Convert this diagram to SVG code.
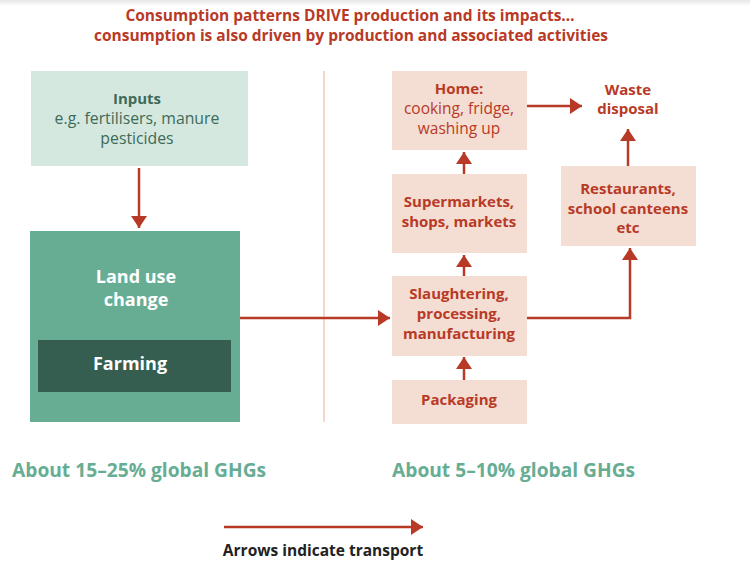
<svg xmlns="http://www.w3.org/2000/svg" width="750" height="570" viewBox="0 0 750 570">
<defs>
<marker id="ah" markerUnits="userSpaceOnUse" markerWidth="16" markerHeight="16" refX="12" refY="8" orient="auto">
<path d="M0,0 L12,8 L0,16 Z" fill="#b83a26"/>
</marker>
<linearGradient id="topshade" x1="0" y1="0" x2="0" y2="1">
<stop offset="0" stop-color="#e6e6e6"/>
<stop offset="1" stop-color="#ffffff"/>
</linearGradient>
<style>
.t{font-family:"Open Sans",Lato,sans-serif;text-anchor:middle}
.title{font-size:15.5px;font-weight:bold;fill:#b83a26}
.rb{font-size:15px;font-weight:bold;fill:#b83a26}
.rn{font-size:15.5px;fill:#b83a26}
.gb{font-size:15px;font-weight:bold;fill:#3d6b58}
.gn{font-size:15.8px;fill:#3d6b58}
.wb{font-size:18px;font-weight:bold;fill:#ffffff}
.ghg{font-family:"Open Sans",Lato,sans-serif;font-size:19.2px;font-weight:bold;fill:#66ad94;text-anchor:start}
.leg{font-size:15.5px;font-weight:bold;fill:#222222}
.pbox{fill:#f4ddd3}
.arr{stroke:#b83a26;stroke-width:2.5;fill:none;marker-end:url(#ah)}
</style>
</defs>
<rect width="750" height="570" fill="#ffffff"/>
<rect width="750" height="6" fill="url(#topshade)"/>
<text class="t title" x="350" y="21">Consumption patterns DRIVE production and its impacts…</text>
<text class="t title" x="351" y="41">consumption is also driven by production and associated activities</text>
<line x1="324" y1="71" x2="324" y2="422" stroke="#f0c8b8" stroke-width="1.5"/>
<g id="inputs">
<rect x="31" y="71" width="217" height="95" fill="#d5e8df"/>
<text class="t gb" x="137" y="104">Inputs</text>
<text class="t gn" x="137" y="124">e.g. fertilisers, manure</text>
<text class="t gn" x="137" y="144">pesticides</text>
</g>
<g id="landuse">
<rect x="30" y="231" width="210" height="191" fill="#66ad94"/>
<text class="t wb" x="136" y="283">Land use</text>
<text class="t wb" x="136" y="306">change</text>
</g>
<g id="farming">
<rect x="38" y="340" width="193" height="52" fill="#355e50"/>
<text class="t wb" x="130" y="370">Farming</text>
</g>
<g id="home">
<rect class="pbox" x="392" y="71" width="135" height="79"/>
<text class="t rb" x="459" y="94">Home:</text>
<text class="t rn" x="459" y="114">cooking, fridge,</text>
<text class="t rn" x="459" y="134">washing up</text>
</g>
<g id="supermarkets">
<rect class="pbox" x="392" y="174" width="135" height="79"/>
<text class="t rb" x="459" y="207">Supermarkets,</text>
<text class="t rb" x="459" y="227">shops, markets</text>
</g>
<g id="slaughtering">
<rect class="pbox" x="392" y="276" width="135" height="80"/>
<text class="t rb" x="459" y="299">Slaughtering,</text>
<text class="t rb" x="459" y="319">processing,</text>
<text class="t rb" x="459" y="339">manufacturing</text>
</g>
<g id="packaging">
<rect class="pbox" x="392" y="380" width="135" height="44"/>
<text class="t rb" x="459" y="405">Packaging</text>
</g>
<g id="restaurants">
<rect class="pbox" x="561" y="166" width="135" height="80"/>
<text class="t rb" x="628" y="194">Restaurants,</text>
<text class="t rb" x="628" y="214">school canteens</text>
<text class="t rb" x="628" y="233">etc</text>
</g>
<g id="waste">
<text class="t rb" x="628" y="95">Waste</text>
<text class="t rb" x="628" y="114">disposal</text>
</g>
<g id="connectors">
<line class="arr" x1="139" y1="168" x2="139" y2="228"/>
<line class="arr" x1="240" y1="318" x2="390" y2="318"/>
<line class="arr" x1="464" y1="380" x2="464" y2="357"/>
<line class="arr" x1="464" y1="276" x2="464" y2="255"/>
<line class="arr" x1="464" y1="174" x2="464" y2="152"/>
<line class="arr" x1="527" y1="106" x2="582" y2="106"/>
<line class="arr" x1="628" y1="166" x2="628" y2="129"/>
<polyline class="arr" points="527,318 630,318 630,248" stroke-width="3.5"/>
<line class="arr" x1="224" y1="527" x2="423" y2="527"/>
</g>
<text class="ghg" x="12" y="477">About 15–25% global GHGs</text>
<text class="ghg" x="392" y="477">About 5–10% global GHGs</text>
<text class="t leg" x="323" y="556">Arrows indicate transport</text>
</svg>
